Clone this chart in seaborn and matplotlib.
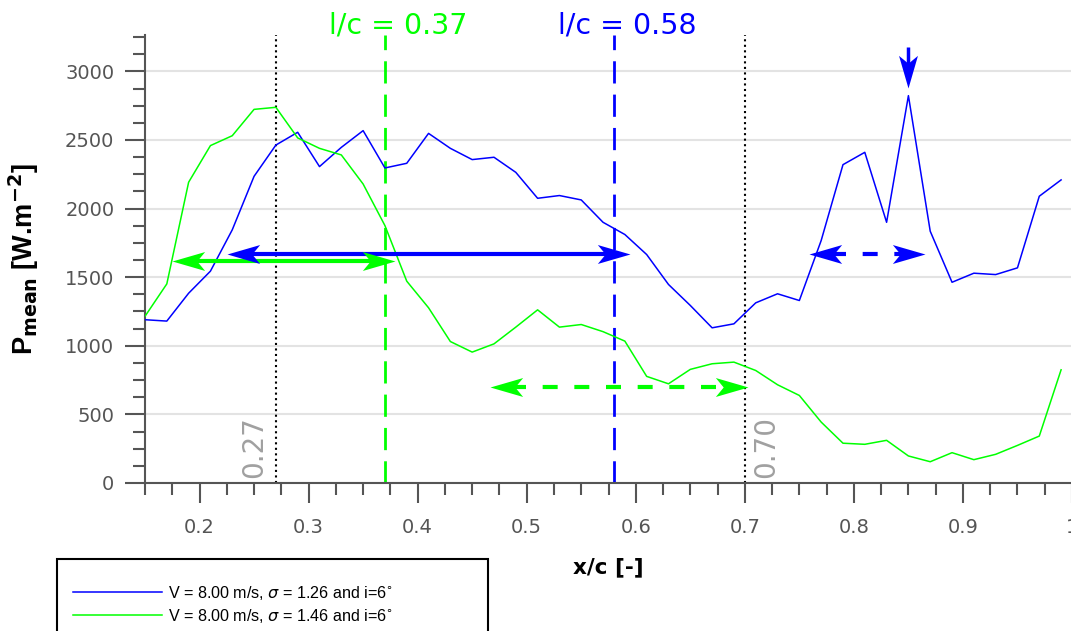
import numpy as np
import pandas as pd
import matplotlib
matplotlib.use("Agg")
import matplotlib.pyplot as plt
import seaborn as sns
from matplotlib.path import Path
from matplotlib.lines import Line2D
from matplotlib.patches import Rectangle
from matplotlib.ticker import MultipleLocator, FuncFormatter

# chord positions of the measurement points
x_c = [0.15, 0.17, 0.19, 0.21, 0.23, 0.25, 0.27, 0.29, 0.31, 0.33, 0.35,
       0.37, 0.39, 0.41, 0.43, 0.45, 0.47, 0.49, 0.51, 0.53, 0.55, 0.57,
       0.59, 0.61, 0.63, 0.65, 0.67, 0.69, 0.71, 0.73, 0.75, 0.77, 0.79,
       0.81, 0.83, 0.85, 0.87, 0.89, 0.91, 0.93, 0.95, 0.97, 0.99]

# mean power, sigma = 1.26 (blue) and sigma = 1.46 (green)
p_blue = [1190, 1180, 1383, 1544, 1845, 2235, 2463, 2556, 2306, 2446, 2568,
          2296, 2330, 2548, 2439, 2357, 2374, 2264, 2075, 2095, 2063, 1900,
          1811, 1665, 1447, 1294, 1131, 1160, 1313, 1379, 1330, 1767, 2320,
          2410, 1900, 2823, 1835, 1463, 1529, 1519, 1568, 2090, 2209]
p_green = [1215, 1451, 2192, 2459, 2531, 2723, 2738, 2515, 2439, 2391, 2179,
           1876, 1471, 1277, 1031, 954, 1014, 1136, 1262, 1136, 1155, 1103,
           1034, 777, 723, 828, 869, 881, 820, 716, 638, 444, 290, 282,
           311, 197, 155, 221, 170, 209, 274, 342, 825]

case_labels = [r"V = 8.00 m/s, $\sigma$ = 1.26 and i=6$^{\circ}$",
               r"V = 8.00 m/s, $\sigma$ = 1.46 and i=6$^{\circ}$"]
case_colors = ["#0000ff", "#00ff00"]

# dotted marks and l/c lines
mark_x = [0.27, 0.70]
mark_text = ["0.27", "0.70"]
lc_x = [0.37, 0.58]
lc_text = ["l/c = 0.37", "l/c = 0.58"]
lc_colors = ["#00ff00", "#0000ff"]

# double arrows
arr_x0 = [0.225, 0.175, 0.466, 0.759]
arr_x1 = [0.595, 0.379, 0.703, 0.865]
arr_y = [1670, 1620, 700, 1670]
arr_color = ["#0000ff", "#00ff00", "#00ff00", "#0000ff"]
arr_dashed = [False, False, True, True]
# arrow pointing at the peak
peak_x = 0.85
peak_y_top = 3180
peak_y_tip = 2880

plt.rcParams["font.family"] = ["DejaVu Sans"]

fig = plt.figure(figsize=(10.71, 6.31), dpi=100)
ax = fig.add_axes([145 / 1071, 148 / 631, 927 / 1071, 448 / 631])

df = pd.DataFrame({
    "x": x_c * 2,
    "P": p_blue + p_green,
    "case": [case_labels[0]] * len(x_c) + [case_labels[1]] * len(x_c),
})
sns.lineplot(data=df, x="x", y="P", hue="case",
             palette=dict(zip(case_labels, case_colors)),
             linewidth=1.1, legend=False, ax=ax, estimator=None, zorder=3)

ax.set_xlim(0.15, 1.0)
ax.set_ylim(0, 3265)

# vertical reference lines
for xv in mark_x:
    ax.axvline(xv, color="black", ls=":", lw=1.5, zorder=2)
for xv, t, c in zip(lc_x, lc_text, lc_colors):
    ax.axvline(xv, color=c, lw=2, dashes=(8, 4), zorder=2)
    ax.text(xv + 0.012, 3275, t, color=c, fontsize=20.5, ha="center",
            va="baseline", clip_on=False)

ax.text(mark_x[0] - 0.007, 35, mark_text[0], rotation=90, color="#a0a0a0",
        fontsize=20, ha="right", va="bottom")
ax.text(mark_x[1] + 0.007, 35, mark_text[1], rotation=90, color="#a0a0a0",
        fontsize=20, ha="left", va="bottom")

# arrow heads as custom markers (tip at the origin)
hw, nd = 0.29, 0.76
codes = [Path.MOVETO, Path.LINETO, Path.LINETO, Path.LINETO, Path.CLOSEPOLY]
head_r = Path([(0, 0), (-1, hw), (-nd, 0), (-1, -hw), (0, 0)], codes)
head_l = Path([(0, 0), (1, hw), (nd, 0), (1, -hw), (0, 0)], codes)
head_d = Path([(0, 0), (hw, 1), (0, nd), (-hw, 1), (0, 0)], codes)
ms = 47
for x0, x1, y, c, dsh in zip(arr_x0, arr_x1, arr_y, arr_color, arr_dashed):
    kw = dict(color=c, lw=3, zorder=4, solid_capstyle="butt", dash_capstyle="butt")
    if dsh:
        kw["dashes"] = (3.6, 4.0)
    ax.plot([x0 + 0.02, x1 - 0.02], [y, y], **kw)
    ax.plot([x0], [y], marker=head_l, ms=ms, color=c, mew=0, zorder=5)
    ax.plot([x1], [y], marker=head_r, ms=ms, color=c, mew=0, zorder=5)
ax.plot([peak_x, peak_x], [peak_y_top, peak_y_tip + 150], color="#0000ff",
        lw=2.5, zorder=4, solid_capstyle="butt")
ax.plot([peak_x], [peak_y_tip], marker=head_d, ms=ms, color="#0000ff", mew=0, zorder=5)

# axes styling
ax.xaxis.set_major_locator(MultipleLocator(0.1))
ax.xaxis.set_minor_locator(MultipleLocator(0.025))
ax.xaxis.set_major_formatter(FuncFormatter(lambda v, p: f"{v:g}"))
ax.yaxis.set_major_locator(MultipleLocator(500))
ax.yaxis.set_minor_locator(MultipleLocator(125))
ax.yaxis.grid(True, which="major", color="#e3e3e3", lw=1.5)
ax.set_axisbelow(True)
for s in ["top", "right"]:
    ax.spines[s].set_visible(False)
for s in ["left", "bottom"]:
    ax.spines[s].set_color("#555555")
    ax.spines[s].set_linewidth(1.5)
ax.tick_params(which="major", length=14.5, width=1.5, color="#555555",
               labelcolor="#555555", labelsize=14, direction="out")
ax.tick_params(which="minor", length=8.5, width=1.5, color="#555555", direction="out")
ax.tick_params(axis="x", which="major", pad=11)
ax.tick_params(axis="y", which="major", pad=7.5)

ax.set_xlabel("x/c [-]", fontsize=15.5, fontweight="bold")
ax.xaxis.set_label_coords(0.5, -0.165)
ax.set_ylabel(r"P$_{\mathbf{mean}}$ [W.m$^{\mathbf{-2}}$]", fontsize=19.5,
              fontweight="bold", family="Liberation Sans")
ax.yaxis.set_label_coords(-0.112, 0.5)

# legend
handles = [Line2D([], [], color=c, lw=1.1) for c in case_colors]
leg = ax.legend(handles, case_labels, loc="upper left",
                bbox_to_anchor=(73 / 1071, 1 - 584 / 631),
                bbox_transform=fig.transFigure, frameon=False, borderpad=0,
                borderaxespad=0, handlelength=5.5, handletextpad=0.4,
                labelspacing=0.3, prop={"family": "Liberation Sans", "size": 11.6})
fig.patches.append(Rectangle((57 / 1071, -0.05), 431 / 1071, (631 - 559) / 631 + 0.05,
                             transform=fig.transFigure, fill=False,
                             edgecolor="black", lw=1.5))

fig.savefig("out.png", dpi=100)
